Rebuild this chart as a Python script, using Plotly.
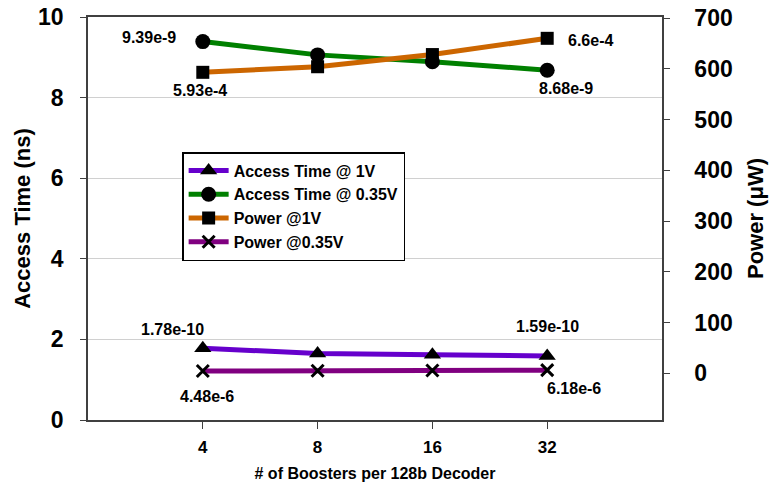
import plotly.graph_objects as go

categories = ["4", "8", "16", "32"]
access_1v = [1.78, 1.65, 1.62, 1.59]          # ns
access_035v = [9.39, 9.06, 8.89, 8.68]        # ns
power_1v = [593, 604, 628, 660]               # uW
power_035v = [4.48, 5.0, 5.5, 6.18]           # uW

left_ticks = [0, 2, 4, 6, 8, 10]
right_ticks = [0, 100, 200, 300, 400, 500, 600, 700]

FONT = "Liberation Sans"
xs = list(range(len(categories)))

fig = go.Figure()
fig.add_trace(go.Scatter(x=xs, y=access_1v, name="<b>Access Time @ 1V</b>", mode="lines+markers",
                         line=dict(color="#6600CC", width=5),
                         marker=dict(symbol="triangle-up", size=15, color="black")))
fig.add_trace(go.Scatter(x=xs, y=access_035v, name="<b>Access Time @ 0.35V</b>", mode="lines+markers",
                         line=dict(color="#008000", width=5),
                         marker=dict(symbol="circle", size=15, color="black")))
fig.add_trace(go.Scatter(x=xs, y=power_1v, name="<b>Power @1V</b>", mode="lines+markers", yaxis="y2",
                         line=dict(color="#CC6600", width=5),
                         marker=dict(symbol="square", size=13, color="black")))
fig.add_trace(go.Scatter(x=xs, y=power_035v, name="<b>Power @0.35V</b>", mode="lines+markers", yaxis="y2",
                         line=dict(color="#800080", width=5),
                         marker=dict(symbol="x-thin", size=12, color="black",
                                     line=dict(color="black", width=3))))

ann_font = dict(family=FONT, size=16, color="black")
def ann(text, xi, yv, yref, dx, dy):
    fig.add_annotation(x=xi, y=yv, xref="x", yref=yref, text="<b>" + text + "</b>",
                       showarrow=False, xshift=dx, yshift=dy, font=ann_font)

ann("9.39e-9", 0, access_035v[0], "y", -54, 4)
ann("5.93e-4", 0, power_1v[0], "y2", -3, -18)
ann("6.6e-4", 3, power_1v[3], "y2", 43, -2)
ann("8.68e-9", 3, access_035v[3], "y", 19, -18)
ann("1.78e-10", 0, access_1v[0], "y", -30, 19)
ann("4.48e-6", 0, power_035v[0], "y2", 4, -25)
ann("1.59e-10", 3, access_1v[3], "y", 0, 29)
ann("6.18e-6", 3, power_035v[3], "y2", 27, -18)

axis_col = "#404040"
fig.update_layout(
    width=774, height=489,
    margin=dict(l=88, r=112, t=17, b=69),
    paper_bgcolor="white", plot_bgcolor="white",
    font=dict(family=FONT, color="black"),
    showlegend=True,
    legend=dict(x=0.164, y=0.665, xanchor="left", yanchor="top",
                bordercolor="black", borderwidth=1.5, bgcolor="white",
                font=dict(family=FONT, size=16, color="black"),
                tracegroupgap=0, itemwidth=40),
    xaxis=dict(range=[-1, 4], tickvals=xs, ticktext=["<b>%s</b>" % c for c in categories],
               tickfont=dict(size=17), ticks="outside", ticklen=7, tickcolor=axis_col,
               showline=True, linecolor=axis_col, linewidth=1.5, mirror=True,
               showgrid=False, zeroline=False, ticklabelstandoff=4, automargin=False,
               title=dict(text="<b># of Boosters per 128b Decoder</b>", font=dict(size=16), standoff=12)),
    yaxis=dict(range=[0, 10], tickvals=left_ticks, ticktext=["<b>%d</b>" % v for v in left_ticks],
               tickfont=dict(size=23), ticks="outside", ticklen=6, tickcolor=axis_col,
               showline=True, linecolor=axis_col, linewidth=1.5,
               showgrid=True, gridcolor="#d0d0d0", gridwidth=1, zeroline=False,
               ticklabelstandoff=12, automargin=False,
               title=dict(text="<b>Access Time (ns)</b>", font=dict(size=22), standoff=1)),
    yaxis2=dict(range=[-92, 702], overlaying="y", side="right",
                tickvals=right_ticks, ticktext=["<b>%d</b>" % v for v in right_ticks],
                tickfont=dict(size=23), ticks="outside", ticklen=6, tickcolor=axis_col,
                showline=True, linecolor=axis_col, linewidth=1.5,
                showgrid=False, zeroline=False, ticklabelstandoff=20, automargin=False,
                title=dict(text="<b>Power (μW)</b>", font=dict(size=22), standoff=16)),
)

fig.write_html("out.html")
